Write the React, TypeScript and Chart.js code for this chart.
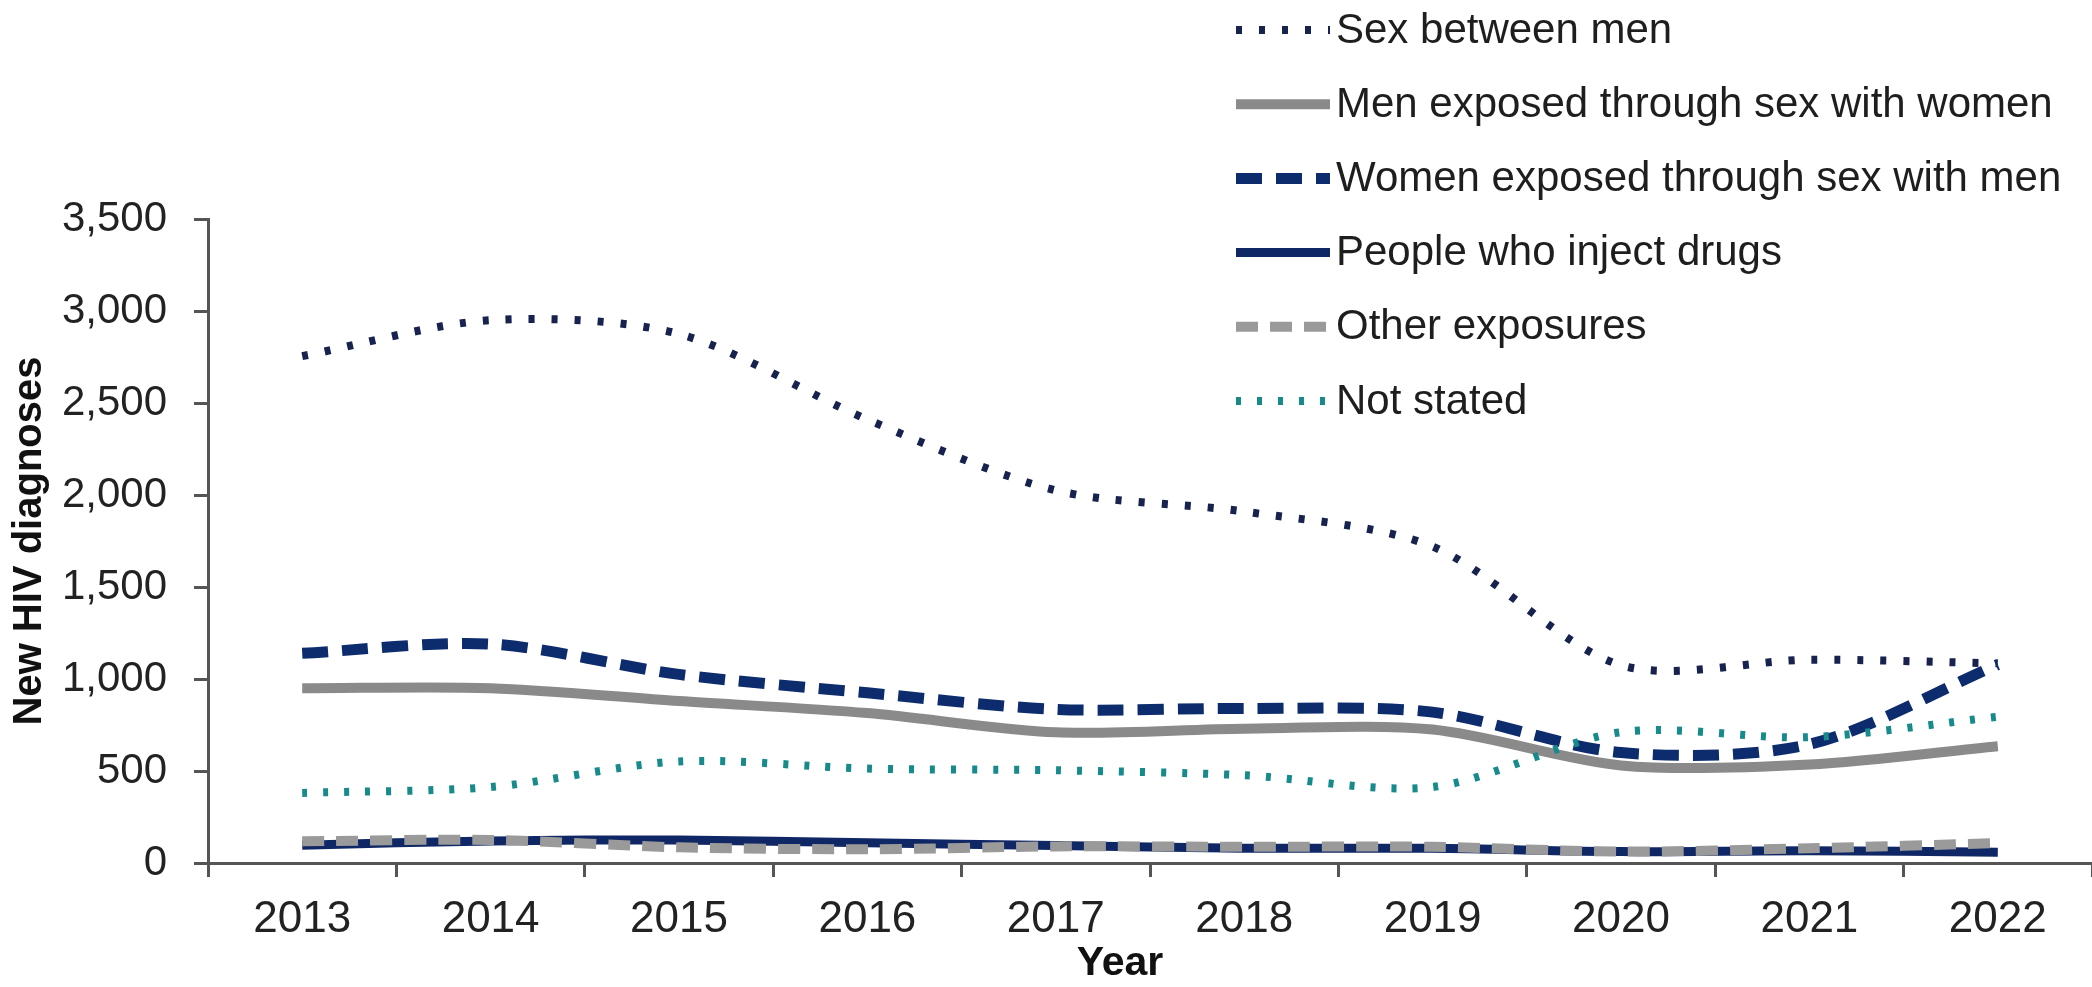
import React, { useEffect, useRef } from "react";
import { Chart, registerables } from "chart.js";

Chart.register(...registerables);

const years = ["2013", "2014", "2015", "2016", "2017", "2018", "2019", "2020", "2021", "2022"];

const sexBetweenMen = [2755, 2950, 2875, 2410, 2025, 1910, 1720, 1075, 1105, 1085];
const menSexWithWomen = [950, 950, 880, 815, 710, 730, 725, 530, 535, 635];
const womenSexWithMen = [1140, 1190, 1025, 925, 835, 840, 820, 600, 645, 1078];
const injectDrugs = [97, 120, 125, 110, 95, 80, 80, 62, 67, 58];
const otherExposures = [118, 125, 85, 75, 90, 88, 88, 62, 80, 108];
const notStated = [381, 413, 552, 513, 504, 477, 413, 711, 684, 795];

const seriesLabels = [
  "Sex between men",
  "Men exposed through sex with women",
  "Women exposed through sex with men",
  "People who inject drugs",
  "Other exposures",
  "Not stated",
];

const yMin = 0;
const yMax = 3500;
const yStep = 500;

const yTitle = "New HIV diagnoses";
const xTitle = "Year";

const FONT = '"Liberation Sans", Arial, Helvetica, sans-serif';

const legendPlugin = {
  id: "sideLegend",
  afterDraw(chart: any) {
    const ctx = chart.ctx as CanvasRenderingContext2D;
    const top = 30;
    const step = 74.2;
    const x0 = 1236;
    const x1 = 1330;
    const tx = 1336;
    ctx.save();
    chart.data.datasets.forEach((ds: any, i: number) => {
      const y = top + i * step;
      ctx.beginPath();
      ctx.setLineDash(ds.borderDash || []);
      ctx.lineCap = "butt";
      ctx.lineWidth = ds.borderWidth;
      ctx.strokeStyle = ds.borderColor;
      ctx.moveTo(x0, y);
      ctx.lineTo(x1, y);
      ctx.stroke();
      ctx.setLineDash([]);
      ctx.fillStyle = "#1e1e1e";
      ctx.font = `42px ${FONT}`;
      ctx.textBaseline = "middle";
      ctx.textAlign = "left";
      ctx.fillText(ds.label, tx, y + 1);
    });
    // x-axis title, placed slightly left of the plot centre as in the source
    ctx.fillStyle = "#111111";
    ctx.font = `bold 41px ${FONT}`;
    ctx.textAlign = "center";
    ctx.textBaseline = "middle";
    ctx.fillText(xTitle, 1120, 964);
    ctx.restore();
  },
};

export default function App() {
  const canvasRef = useRef<HTMLCanvasElement | null>(null);

  useEffect(() => {
    if (!canvasRef.current) return;
    const values = [sexBetweenMen, menSexWithWomen, womenSexWithMen, injectDrugs, otherExposures, notStated];
    const styles = [
      { color: "#17224f", width: 8, dash: [6, 17] },
      { color: "#8a8a8a", width: 10, dash: [] as number[] },
      { color: "#0d2c6e", width: 11, dash: [26, 14] },
      { color: "#102766", width: 9, dash: [] as number[] },
      { color: "#9a9a9a", width: 10, dash: [22, 12] },
      { color: "#178a8c", width: 8, dash: [5, 16] },
    ];
    const datasets = values.map((data, i) => ({
      label: seriesLabels[i],
      data,
      borderColor: styles[i].color,
      backgroundColor: styles[i].color,
      borderWidth: styles[i].width,
      borderDash: styles[i].dash,
      borderCapStyle: "butt" as const,
      pointRadius: 0,
      pointHoverRadius: 0,
      tension: 0.3,
      fill: false,
      order: values.length - i,
    }));

    const chart = new Chart(canvasRef.current, {
      type: "line",
      data: { labels: years, datasets },
      plugins: [legendPlugin],
      options: {
        animation: false,
        responsive: false,
        maintainAspectRatio: false,
        layout: { padding: { top: 219, right: 0, left: 0, bottom: 0 } },
        plugins: {
          legend: { display: false },
          tooltip: { enabled: false },
          title: { display: false },
        },
        scales: {
          x: {
            offset: true,
            grid: {
              offset: true,
              drawOnChartArea: false,
              drawTicks: true,
              tickLength: 14,
              color: "#555555",
              lineWidth: 3,
            },
            border: { display: true, color: "#555555", width: 3 },
            ticks: {
              autoSkip: false,
              maxRotation: 0,
              minRotation: 0,
              padding: 16,
              color: "#222222",
              font: { family: FONT, size: 44 },
            },
            title: { display: false },
            afterFit: (scale: any) => {
              scale.height = 124;
            },
          },
          y: {
            min: yMin,
            max: yMax,
            grid: {
              drawOnChartArea: false,
              drawTicks: true,
              tickLength: 14,
              color: "#555555",
              lineWidth: 3,
            },
            border: { display: true, color: "#555555", width: 3 },
            ticks: {
              stepSize: yStep,
              padding: 27,
              color: "#222222",
              font: { family: FONT, size: 42 },
              callback: (v: any) => Number(v).toLocaleString("en-US"),
            },
            title: {
              display: true,
              text: yTitle,
              color: "#111111",
              font: { family: FONT, size: 40, weight: "bold" },
              padding: { top: 6, bottom: 0 },
            },
            afterFit: (scale: any) => {
              scale.width = 208;
            },
          },
        },
      },
    });
    return () => chart.destroy();
  }, []);

  return (
    <div style={{ position: "fixed", left: 0, top: 0, width: 2092, height: 987, background: "#ffffff" }}>
      <canvas ref={canvasRef} width={2092} height={987} style={{ display: "block" }} />
    </div>
  );
}
